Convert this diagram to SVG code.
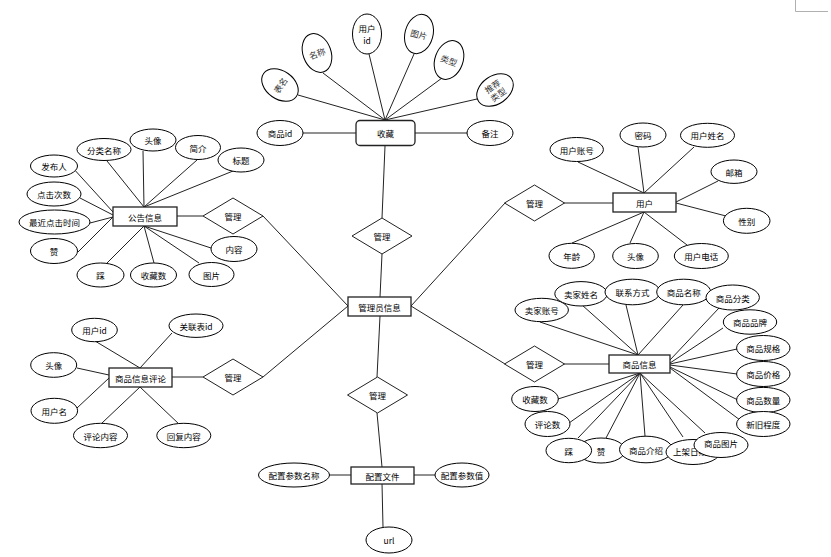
<svg xmlns="http://www.w3.org/2000/svg" width="831" height="557" viewBox="0 0 831 557">
<style>
.e{fill:#fff;stroke:#000;stroke-width:1}
.r{fill:#fff;stroke:#222;stroke-width:1.3}
.d{fill:#fff;stroke:#222;stroke-width:1}
.c line,.c path{stroke:#222;stroke-width:1;fill:none}
text{font-family:"Noto Sans CJK SC","Liberation Sans",sans-serif;font-size:8.5px;fill:#000;text-anchor:middle;dominant-baseline:central}
.g{fill:#333}
</style>
<rect width="831" height="557" fill="#fff"/>
<path d="M795.5,0 V11.5 H828" stroke="#b0b0b0" stroke-width="1" fill="none"/>
<g id="connectors" class="c">
<path d="M298,95 L385,120 M323,73 L385,120 M369,54 L385,120 M414,54 L385,120 M442,78 L385,120 M477,99 L385,120 M303,133 H356 M415,133 H467 M385,146 L382,218 M382,254 L380,297"/>
<path d="M72,167 L113,212 M80,198 L113,215 M90,223 L113,217 M78,252 L113,217 M107,161 L144,207 M143,151 L144,207 M197,160 L144,207 M233,171 L144,207 M107,263 L144,226 M154,263 L144,226 M199,263 L144,226 M211,248 L144,226 M177,216 H203 M263,216 L348,306"/>
<path d="M578,162 L644,193 M638,147 L644,193 M694,147 L644,193 M718,181 L676,202 M726,216 L676,203 M572,243 L644,212 M630,243 L644,212 M687,245 L644,212 M411,306 L505,203 M564,203 H613"/>
<path d="M95,341 L140,368 M172,333 L140,368 M77,368 L109,375 M77,408 L109,378 M102,423 L140,387 M180,425 L140,387 M172,377 H203 M263,377 L348,306"/>
<path d="M540,322 L638,355 M582,305 L638,355 M626,305 L638,355 M683,305 L638,355 M719,308 L670,360 M723,328 L670,363 M737,349 L670,364 M737,374 L670,365 M738,400 L670,367 M740,420 L670,368 M558,399 L640,373 M569,423 L640,373 M578,438 L640,373 M606,438 L640,373 M645,436 L640,373 M683,437 L640,373 M705,433 L640,373 M411,306 L505,364 M564,364 H609"/>
<path d="M380,316 L377,377 M377,413 L382,467 M329,475 H351 M414,475 H435 M382,483 L383,527"/>
</g>

<g id="shoucang"><rect class="r" x="356" y="120.5" width="59" height="25" rx="4"/><text x="385.5" y="133">收藏</text></g>
<g id="sc-spid"><ellipse class="e" cx="280" cy="133" rx="23" ry="12.5"/><text x="280" y="133">商品id</text></g>
<g id="sc-beizhu"><ellipse class="e" cx="490" cy="133" rx="23" ry="12.5"/><text x="490" y="133">备注</text></g>
<g id="sc-biaoming" transform="translate(280,85) rotate(-55)"><ellipse class="e" cx="0" cy="0" rx="14" ry="20"/><text class="g" x="0" y="0">表名</text></g>
<g id="sc-mingcheng" transform="translate(317,53) rotate(-20)"><ellipse class="e" cx="0" cy="0" rx="14" ry="20"/><text class="g" x="0" y="0">名称</text></g>
<g id="sc-yonghuid"><ellipse class="e" cx="367" cy="34" rx="14.5" ry="20"/><text x="367" y="28">用户</text><text x="367" y="40">id</text></g>
<g id="sc-tupian" transform="translate(419,34) rotate(15)"><ellipse class="e" cx="0" cy="0" rx="14" ry="20"/><text class="g" x="0" y="0">图片</text></g>
<g id="sc-leixing" transform="translate(449,60) rotate(20)"><ellipse class="e" cx="0" cy="0" rx="14" ry="20"/><text class="g" x="0" y="0">类型</text></g>
<g id="sc-tuijian" transform="translate(495,90) rotate(-35)"><ellipse class="e" cx="0" cy="0" rx="20" ry="14"/><text class="g" x="0" y="-5">推荐</text><text class="g" x="0" y="5">类型</text></g>

<g id="m1"><polygon class="d" points="382,218 412,236 382,254 352,236"/><text x="382" y="236">管理</text></g>
<g id="admin"><rect class="r" x="348" y="297" width="63" height="19"/><text x="379.5" y="306.5">管理员信息</text></g>
<g id="m2"><polygon class="d" points="377.5,377 407.5,395 377.5,413 347.5,395"/><text x="377.5" y="395">管理</text></g>
<g id="peizhi"><rect class="r" x="351" y="467" width="63" height="17"/><text x="382.5" y="475.5">配置文件</text></g>
<g id="pz-name"><ellipse class="e" cx="294" cy="475" rx="35.5" ry="12"/><text x="294" y="475">配置参数名称</text></g>
<g id="pz-val"><ellipse class="e" cx="462" cy="475" rx="27" ry="12"/><text x="462" y="475">配置参数值</text></g>
<g id="pz-url"><ellipse class="e" cx="389" cy="540" rx="23" ry="13"/><text x="389" y="540">url</text></g>

<g id="m3"><polygon class="d" points="233,198 263,216 233,234 203,216"/><text x="233" y="216">管理</text></g>
<g id="gonggao"><rect class="r" x="113" y="207" width="64" height="19"/><text x="145" y="216.5">公告信息</text></g>
<g id="gg-fbr"><ellipse class="e" cx="54" cy="166" rx="23.5" ry="11"/><text x="54" y="166">发布人</text></g>
<g id="gg-flmc"><ellipse class="e" cx="104" cy="149.5" rx="27" ry="11"/><text x="104" y="149.5">分类名称</text></g>
<g id="gg-tx"><ellipse class="e" cx="153" cy="140" rx="23" ry="11"/><text x="153" y="140">头像</text></g>
<g id="gg-jj"><ellipse class="e" cx="198" cy="147.5" rx="22.5" ry="12"/><text x="198" y="147.5">简介</text></g>
<g id="gg-bt"><ellipse class="e" cx="241" cy="160" rx="23" ry="12"/><text x="241" y="160">标题</text></g>
<g id="gg-djcs"><ellipse class="e" cx="54" cy="194" rx="27" ry="12"/><text x="54" y="194">点击次数</text></g>
<g id="gg-zjdj"><ellipse class="e" cx="54.5" cy="222" rx="35.5" ry="12"/><text x="54.5" y="222">最近点击时间</text></g>
<g id="gg-zan"><ellipse class="e" cx="54" cy="251" rx="23.5" ry="12.5"/><text x="54" y="251">赞</text></g>
<g id="gg-cai"><ellipse class="e" cx="100.5" cy="275" rx="23.5" ry="12"/><text x="100.5" y="275">踩</text></g>
<g id="gg-scs"><ellipse class="e" cx="153.5" cy="275" rx="23" ry="12"/><text x="153.5" y="275">收藏数</text></g>
<g id="gg-tp"><ellipse class="e" cx="211.5" cy="274.5" rx="22.5" ry="12"/><text x="211.5" y="274.5">图片</text></g>
<g id="gg-nr"><ellipse class="e" cx="234" cy="249" rx="23" ry="12.5"/><text x="234" y="249">内容</text></g>

<g id="m4"><polygon class="d" points="233,359 263,377 233,395 203,377"/><text x="233" y="377">管理</text></g>
<g id="pinglun"><rect class="r" x="109" y="368" width="63" height="19"/><text x="140.5" y="377.5">商品信息评论</text></g>
<g id="pl-yhid"><ellipse class="e" cx="94.5" cy="330" rx="22.8" ry="11.7"/><text x="94.5" y="330">用户id</text></g>
<g id="pl-glbid"><ellipse class="e" cx="196" cy="325.7" rx="27" ry="11.7"/><text x="196" y="325.7">关联表id</text></g>
<g id="pl-tx"><ellipse class="e" cx="53.7" cy="365" rx="23" ry="12.3"/><text x="53.7" y="365">头像</text></g>
<g id="pl-yhm"><ellipse class="e" cx="54.3" cy="410.8" rx="23.3" ry="12.5"/><text x="54.3" y="410.8">用户名</text></g>
<g id="pl-plnr"><ellipse class="e" cx="100.5" cy="435.5" rx="27" ry="12.2"/><text x="100.5" y="435.5">评论内容</text></g>
<g id="pl-hfnr"><ellipse class="e" cx="183.8" cy="435.5" rx="27" ry="12.2"/><text x="183.8" y="435.5">回复内容</text></g>

<g id="m5"><polygon class="d" points="534.5,185 564.5,203 534.5,221 504.5,203"/><text x="534.5" y="203">管理</text></g>
<g id="yonghu"><rect class="r" x="613" y="193" width="63" height="19"/><text x="644.5" y="202.5">用户</text></g>
<g id="yh-zh"><ellipse class="e" cx="576.7" cy="149.5" rx="26.7" ry="12"/><text x="576.7" y="149.5">用户账号</text></g>
<g id="yh-mm"><ellipse class="e" cx="643" cy="135" rx="23" ry="12"/><text x="643" y="135">密码</text></g>
<g id="yh-xm"><ellipse class="e" cx="707.5" cy="135.3" rx="27" ry="12"/><text x="707.5" y="135.3">用户姓名</text></g>
<g id="yh-yx"><ellipse class="e" cx="734" cy="171.7" rx="23" ry="11.7"/><text x="734" y="171.7">邮箱</text></g>
<g id="yh-xb"><ellipse class="e" cx="746.7" cy="220.8" rx="23.3" ry="12.5"/><text x="746.7" y="220.8">性别</text></g>
<g id="yh-nl"><ellipse class="e" cx="571.7" cy="255.8" rx="22.7" ry="12.5"/><text x="571.7" y="255.8">年龄</text></g>
<g id="yh-tx"><ellipse class="e" cx="635.5" cy="256" rx="22.8" ry="12.5"/><text x="635.5" y="256">头像</text></g>
<g id="yh-dh"><ellipse class="e" cx="701.3" cy="256" rx="27" ry="12.5"/><text x="701.3" y="256">用户电话</text></g>

<g id="m6"><polygon class="d" points="534.5,346 564.5,364 534.5,382 504.5,364"/><text x="534.5" y="364">管理</text></g>
<g id="shangpin"><rect class="r" x="609" y="355" width="61" height="18"/><text x="639.5" y="364">商品信息</text></g>
<g id="sp-mjzh"><ellipse class="e" cx="541.7" cy="310" rx="26.7" ry="11.7"/><text x="541.7" y="310">卖家账号</text></g>
<g id="sp-mjxm"><ellipse class="e" cx="581" cy="293.8" rx="26.2" ry="12.2"/><text x="581" y="293.8">卖家姓名</text></g>
<g id="sp-lxfs"><ellipse class="e" cx="632.5" cy="292" rx="27.5" ry="12.8"/><text x="632.5" y="292">联系方式</text></g>
<g id="sp-spmc"><ellipse class="e" cx="683.7" cy="292" rx="27" ry="12.8"/><text x="683.7" y="292">商品名称</text></g>
<g id="sp-spfl"><ellipse class="e" cx="732.7" cy="297.5" rx="26.7" ry="12.5"/><text x="732.7" y="297.5">商品分类</text></g>
<g id="sp-sppp"><ellipse class="e" cx="750" cy="322" rx="26.7" ry="12.2"/><text x="750" y="322">商品品牌</text></g>
<g id="sp-spgg"><ellipse class="e" cx="763.3" cy="348" rx="26.7" ry="12.5"/><text x="763.3" y="348">商品规格</text></g>
<g id="sp-spjg"><ellipse class="e" cx="763.3" cy="374" rx="26.7" ry="12.5"/><text x="763.3" y="374">商品价格</text></g>
<g id="sp-spsl"><ellipse class="e" cx="763.3" cy="400" rx="26.7" ry="12.6"/><text x="763.3" y="400">商品数量</text></g>
<g id="sp-xjcd"><ellipse class="e" cx="763.3" cy="424" rx="26.7" ry="12.5"/><text x="763.3" y="424">新旧程度</text></g>
<g id="sp-scs"><ellipse class="e" cx="535" cy="399" rx="23.3" ry="12.5"/><text x="535" y="399">收藏数</text></g>
<g id="sp-pls"><ellipse class="e" cx="547.5" cy="424" rx="22.5" ry="12.5"/><text x="547.5" y="424">评论数</text></g>
<g id="sp-zan"><ellipse class="e" cx="601" cy="450.5" rx="24" ry="12.5"/><text x="601" y="450.5">赞</text></g>
<g id="sp-cai"><ellipse class="e" cx="568.8" cy="450.5" rx="22.8" ry="12.2"/><text x="568.8" y="450.5">踩</text></g>
<g id="sp-spjs"><ellipse class="e" cx="646" cy="449.5" rx="26.5" ry="13.3"/><text x="646" y="449.5">商品介绍</text></g>
<g id="sp-sjrq"><ellipse class="e" cx="693" cy="452" rx="27" ry="12.5"/><text x="690" y="451">上架日期</text></g>
<g id="sp-sptp"><ellipse class="e" cx="721" cy="445" rx="27" ry="12.5"/><text x="721" y="443">商品图片</text></g>
</svg>
